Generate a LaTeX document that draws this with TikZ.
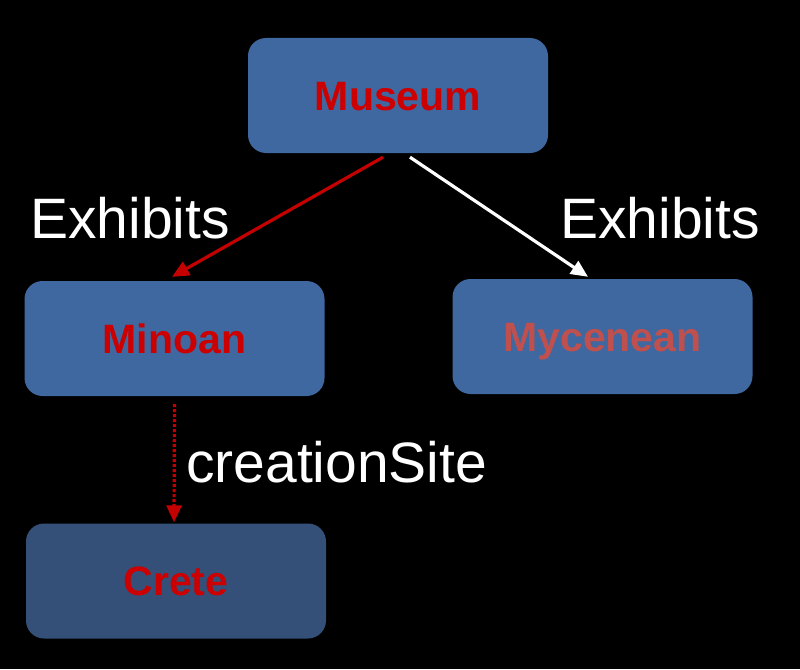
\documentclass[tikz,border=0pt]{standalone}
\usepackage{fontspec}
\setmainfont{Liberation Sans}
\usepackage{tikz}
\usetikzlibrary{arrows.meta,positioning,calc}

\definecolor{boxblue}{RGB}{63,103,160}
\definecolor{boxdark}{RGB}{52,80,121}
\definecolor{nodered}{RGB}{204,0,0}
\definecolor{paleRed}{RGB}{192,80,77}
\definecolor{linkred}{RGB}{196,0,0}

\begin{document}
\begin{tikzpicture}[
		x=1pt, y=-1pt,
		entity/.style = {fill=boxblue, rounded corners=18pt, minimum width=300pt, minimum height=115pt,
			inner sep=0pt, text height=29.5pt, text depth=0pt, text=nodered,
			font=\fontsize{41}{49}\selectfont\bfseries},
		relname/.style = {white, inner sep=0pt, font=\fontsize{57}{68}\selectfont},
		link/.style = {line width=3.2pt, -{Triangle[length=17pt,width=15pt]}},
	]
	% background, fixes the size
	\fill[black] (0,0) rectangle (800,669);

	\node[entity] (museum) at (398,95.5) {Museum};
	\node[entity] (minoan) at (174.5,338.5) {Minoan};
	\node[entity, text=paleRed] (mycenean) at (602.5,336.5) {Mycenean};
	\node[entity, fill=boxdark] (crete) at (176,581) {Crete};

	\node[relname, anchor=base] (ex1) at (130,238) {Exhibits};
	\node[relname, anchor=base] (ex2) at (660,238) {Exhibits};
	\node[relname, anchor=base west] (site) at (186,482) {creationSite};

	\draw[link, linkred] ([xshift=-15pt,yshift=-4pt]museum.south) -- ([xshift=-2.5pt,yshift=4pt]minoan.north);
	\draw[link, white] ([xshift=12pt,yshift=-4pt]museum.south) -- ([xshift=-14.5pt,yshift=2pt]mycenean.north);
	\draw[link, linkred, dash pattern=on 3pt off 2pt] ([yshift=-8pt]minoan.south) -- ([xshift=-2pt,yshift=1pt]crete.north);
\end{tikzpicture}
\end{document}
